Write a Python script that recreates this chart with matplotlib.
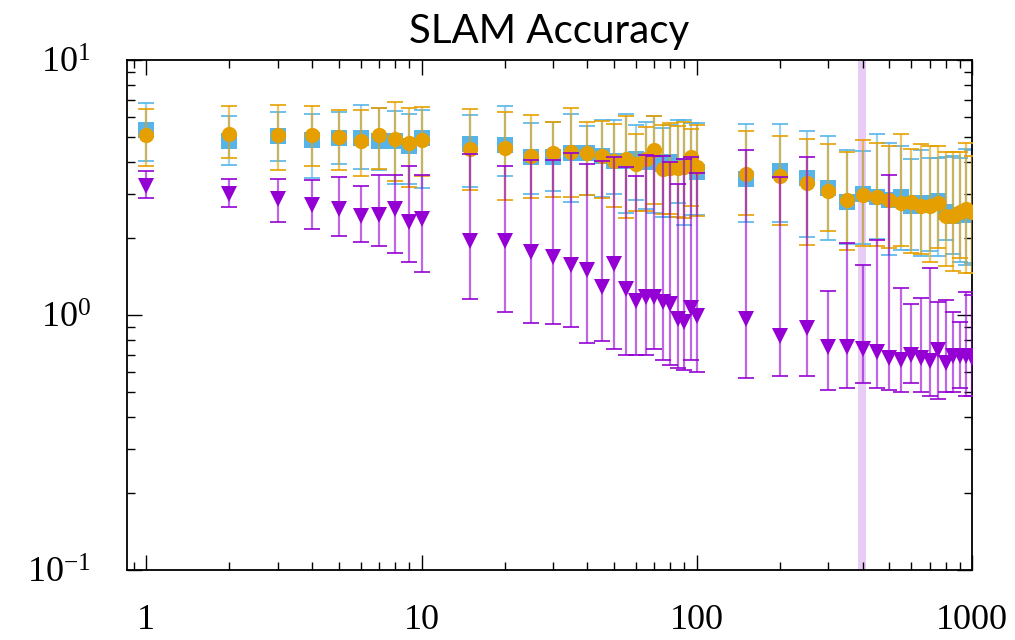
import numpy as np
import matplotlib
matplotlib.use('Agg')
from matplotlib import pyplot as plt
from matplotlib import ticker

# x positions (number of ...)
x = [1, 2, 3, 4, 5, 6, 7, 8, 9, 10,
     15, 20, 25, 30, 35, 40, 45, 50, 55, 60, 65, 70, 75, 80, 85, 90, 95, 100,
     150, 200, 250, 300, 350, 400, 450, 500, 550, 600, 650, 700, 750, 800, 850, 900, 950, 1000]

# blue squares
blue = [5.32, 4.82, 5.03, 4.88, 4.95, 4.97, 4.84, 4.81, 4.59, 4.94,
        4.70, 4.64, 4.19, 4.19, 4.32, 4.32, 4.20, 4.03, 4.03, 4.10, 4.00, 3.97, 3.92, 3.97, 3.85, 3.85, 3.85, 3.64,
        3.42, 3.66, 3.44, 3.16, 2.79, 2.99, 2.91, 2.84, 2.92, 2.69, 2.75, 2.75, 2.80, 2.55, 2.45, 2.48, 2.48, 2.48]
blue_lo = [4.03, 3.89, 4.02, 3.45, 3.90, 3.75, 3.70, 3.27, 3.27, 3.15,
           3.18, 3.50, 3.00, 3.06, 2.78, 2.95, 2.90, 2.99, 2.52, 2.82, 2.62, 2.52, 2.42, 2.42, 2.76, 2.26, 2.48, 2.48,
           2.33, 2.31, 2.03, 1.97, 1.91, 1.91, 1.99, 1.72, 1.80, 1.80, 1.71, 1.79, 1.71, 1.97, 1.74, 1.61, 1.58, 1.60]
blue_hi = [6.79, 6.05, 6.29, 6.15, 6.25, 6.65, 6.50, 6.30, 6.17, 6.38,
           6.09, 6.63, 5.67, 5.73, 6.14, 5.53, 5.80, 5.81, 6.16, 5.56, 5.70, 6.04, 5.40, 5.56, 5.81, 5.81, 5.65, 5.65,
           5.62, 5.63, 5.26, 5.02, 4.46, 4.42, 5.12, 4.73, 4.59, 4.10, 4.46, 4.14, 4.14, 4.19, 4.20, 4.14, 4.48, 4.46]

# orange circles
orange = [5.09, 5.12, 5.09, 5.09, 5.01, 4.82, 5.09, 4.89, 4.74, 4.85,
          4.49, 4.53, 4.22, 4.33, 4.35, 4.32, 4.22, 4.03, 4.10, 3.92, 4.10, 4.45, 3.74, 3.77, 3.77, 3.80, 4.16, 3.80,
          3.59, 3.50, 3.31, 3.06, 2.84, 2.97, 2.91, 2.84, 2.75, 2.77, 2.69, 2.67, 2.75, 2.45, 2.45, 2.55, 2.61, 2.53]
orange_lo = [3.86, 4.12, 3.72, 3.83, 3.71, 3.51, 3.73, 3.35, 3.17, 3.50,
             3.10, 2.83, 2.88, 2.90, 2.92, 2.95, 2.88, 2.65, 2.40, 2.57, 2.57, 2.73, 2.49, 2.49, 2.42, 2.40, 2.69, 2.45,
             2.48, 2.26, 1.89, 2.13, 1.80, 1.86, 1.87, 1.83, 1.86, 1.75, 1.74, 1.62, 1.83, 1.56, 1.49, 1.68, 1.47, 1.46]
orange_hi = [6.46, 6.60, 6.67, 6.60, 6.35, 6.40, 6.50, 6.85, 6.50, 6.55,
             6.44, 6.27, 6.12, 5.73, 6.52, 5.70, 5.79, 5.60, 6.04, 5.12, 5.45, 6.06, 5.56, 5.65, 5.51, 5.73, 5.36, 5.56,
             5.26, 5.02, 4.90, 4.69, 4.38, 4.88, 4.75, 4.62, 5.12, 4.48, 4.70, 4.62, 4.62, 4.38, 4.38, 4.38, 4.75, 4.20]

# purple triangles
purple = [3.20, 3.00, 2.85, 2.71, 2.60, 2.44, 2.47, 2.62, 2.32, 2.39,
          1.96, 1.96, 1.77, 1.69, 1.57, 1.50, 1.29, 1.59, 1.27, 1.14, 1.18, 1.18, 1.13, 1.11, 0.97, 0.94, 1.07, 0.99,
          0.97, 0.83, 0.89, 0.75, 0.75, 0.74, 0.72, 0.68, 0.67, 0.70, 0.68, 0.66, 0.73, 0.65, 0.69, 0.69, 0.69, 0.68]
purple_lo = [2.89, 2.66, 2.33, 2.17, 2.04, 1.93, 1.87, 1.75, 1.61, 1.48,
             1.16, 1.03, 0.93, 0.92, 0.90, 0.78, 0.79, 0.74, 0.70, 0.70, 0.70, 0.74, 0.67, 0.64, 0.62, 0.61, 0.67, 0.60,
             0.565, 0.58, 0.58, 0.51, 0.52, 0.54, 0.52, 0.51, 0.50, 0.54, 0.50, 0.48, 0.47, 0.50, 0.50, 0.52, 0.48, 0.48]
purple_hi = [3.69, 3.43, 3.43, 3.38, 3.47, 3.22, 3.56, 3.56, 3.85, 3.55,
             4.29, 3.83, 4.05, 4.05, 4.33, 3.92, 4.01, 4.16, 3.82, 3.50, 4.26, 4.22, 4.22, 3.97, 3.26, 4.10, 4.16, 3.62,
             4.43, 3.48, 4.19, 1.24, 1.92, 1.58, 1.98, 3.55, 1.28, 1.11, 1.17, 1.53, 1.13, 1.15, 1.03, 0.94, 1.23, 1.20]

band = [385, 412]

xticks = [1, 10, 100, 1000]
xticklabels = ['1', '10', '100', '1000']

plt.rcParams['mathtext.fontset'] = 'custom'
plt.rcParams['mathtext.rm'] = 'Liberation Serif'
plt.rcParams['mathtext.it'] = 'Liberation Serif:italic'

fig = plt.figure(figsize=(10.15, 6.4), dpi=100)
ax = fig.add_axes([0.125, 0.109, 0.833, 0.797])

ax.axvspan(band[0], band[1], color='#9400D3', alpha=0.2, lw=0, zorder=0)

series = [
    (blue, blue_lo, blue_hi, '#56B4E9', 's', 11.5),
    (orange, orange_lo, orange_hi, '#E69F00', 'o', 11),
    (purple, purple_lo, purple_hi, '#9400D3', 'v', 12),
]
for k, (y, lo, hi, c, m, ms) in enumerate(series):
    y = np.array(y)
    err = [y - np.array(lo), np.array(hi) - y]
    pts, caps, bars = ax.errorbar(x, y, yerr=err, fmt=m, color=c, ms=ms,
                                  ecolor=c, elinewidth=1.6, capsize=5.5, capthick=1.4,
                                  zorder=2 + k)
    pts.set_markeredgewidth(0)
    for b in bars:
        b.set_alpha(0.6)
    for cp in caps:
        cp.set_alpha(0.85)

ax.set_xscale('log')
ax.set_yscale('log')
ax.set_xlim(0.85, 1000)
ax.set_ylim(0.1, 10)

ax.xaxis.set_major_locator(ticker.FixedLocator(xticks))
ax.xaxis.set_major_formatter(ticker.FixedFormatter(xticklabels))
ax.xaxis.set_minor_locator(ticker.LogLocator(base=10, subs=np.arange(2, 10)))
ax.xaxis.set_minor_formatter(ticker.NullFormatter())
ax.yaxis.set_minor_locator(ticker.LogLocator(base=10, subs=np.arange(2, 10)))
ax.yaxis.set_minor_formatter(ticker.NullFormatter())

ax.tick_params(which='both', direction='in', top=True, right=True, width=1)
ax.tick_params(which='major', length=11)
ax.tick_params(which='minor', length=5.5)
ax.tick_params(axis='x', which='major', pad=24, labelsize=26)
ax.tick_params(axis='y', which='major', pad=26, labelsize=26)
for lab in ax.get_xticklabels() + ax.get_yticklabels():
    lab.set_fontfamily('Liberation Serif')
for s in ax.spines.values():
    s.set_linewidth(1.3)

ax.set_title('SLAM Accuracy', fontsize=29, family='Lato', pad=12)

plt.savefig('out.png', dpi=100)
